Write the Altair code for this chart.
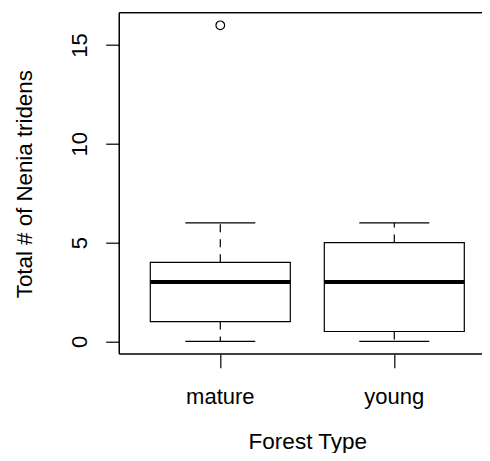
import altair as alt
import pandas as pd

forest = ["mature", "young"]
mins = [0, 0]
q1s = [1, 0.5]
medians = [3, 3]
q3s = [4, 5]
maxs = [6, 6]
outlier_forest = ["mature"]
outlier_vals = [16]

df = pd.DataFrame({"forest": forest, "min": mins, "q1": q1s, "median": medians,
                   "q3": q3s, "max": maxs})
out = pd.DataFrame({"forest": outlier_forest, "value": outlier_vals})

FONT = "Liberation Sans"
LW = 1.2
W = 362.7
H = 341.3

xscale = alt.Scale(domain=forest, range=[14, 362], paddingInner=0, paddingOuter=0)
yscale = alt.Scale(domain=[-0.64, 16.64], nice=False, zero=False)

xenc = alt.X("forest:N", scale=xscale, title="Forest Type",
             axis=alt.Axis(labelAngle=0, tickSize=13.7, tickWidth=LW, tickColor="black",
                           domain=False, labelFont=FONT, labelFontSize=22, labelColor="black",
                           labelBaseline="alphabetic", labelPadding=35.5,
                           titleFont=FONT, titleFontSize=22.5, titleFontWeight="normal",
                           titleColor="black", titleX=188, titleY=94,
                           titleBaseline="alphabetic", titleAlign="center"))

yaxis = alt.Axis(values=[0, 5, 10, 15], tickSize=13.6, tickWidth=LW, tickColor="black",
                 domain=False, grid=False, labelAngle=270, labelAlign="center",
                 labelBaseline="alphabetic", labelPadding=19, labelFont=FONT,
                 labelFontSize=22, labelColor="black",
                 titleFont=FONT, titleFontSize=22.3, titleFontWeight="normal", titleColor="black",
                 titleAngle=270, titleX=-88, titleY=171, titleBaseline="alphabetic",
                 titleAlign="center")

base = alt.Chart(df)

upper = base.mark_rule(color="black", strokeWidth=LW, strokeDash=[8, 7]).encode(
    x=xenc,
    y=alt.Y("q3:Q", scale=yscale, axis=yaxis, title="Total # of Nenia tridens"),
    y2="max:Q")
lower = base.mark_rule(color="black", strokeWidth=LW, strokeDash=[8, 7]).encode(
    x="forest:N", y="q1:Q", y2="min:Q")
box = base.mark_bar(width=140, fill="white", stroke="black", strokeWidth=LW,
                    opacity=1).encode(
    x="forest:N", y="q1:Q", y2="q3:Q")
med = base.mark_tick(size=140, thickness=4, color="black", opacity=1).encode(
    x="forest:N", y="median:Q")
capmax = base.mark_tick(size=70, thickness=LW, color="black", opacity=1).encode(
    x="forest:N", y="max:Q")
capmin = base.mark_tick(size=70, thickness=LW, color="black", opacity=1).encode(
    x="forest:N", y="min:Q")
pts = alt.Chart(out).mark_point(shape="circle", size=75, filled=False, color="black",
                                strokeWidth=LW, opacity=1).encode(
    x="forest:N", y="value:Q")

# plot frame (R box around plot region; right side lies beyond the picture)
frame_top = base.mark_rule(color="black", strokeWidth=LW).encode(y=alt.value(0))
frame_bot = base.mark_rule(color="black", strokeWidth=LW).encode(y=alt.value(H))
frame_left = base.mark_rule(color="black", strokeWidth=LW).encode(x=alt.value(0))

chart = alt.layer(upper, lower, box, med, capmax, capmin, pts,
                  frame_top, frame_bot, frame_left).properties(
    width=W, height=H,
    autosize=alt.AutoSizeParams(type="none"),
    padding={"left": 111.3, "top": 4.7, "right": 0, "bottom": 99},
    background="white",
).configure_view(stroke=None)

chart.save("out.html", embed_options={"renderer": "svg", "actions": False})
